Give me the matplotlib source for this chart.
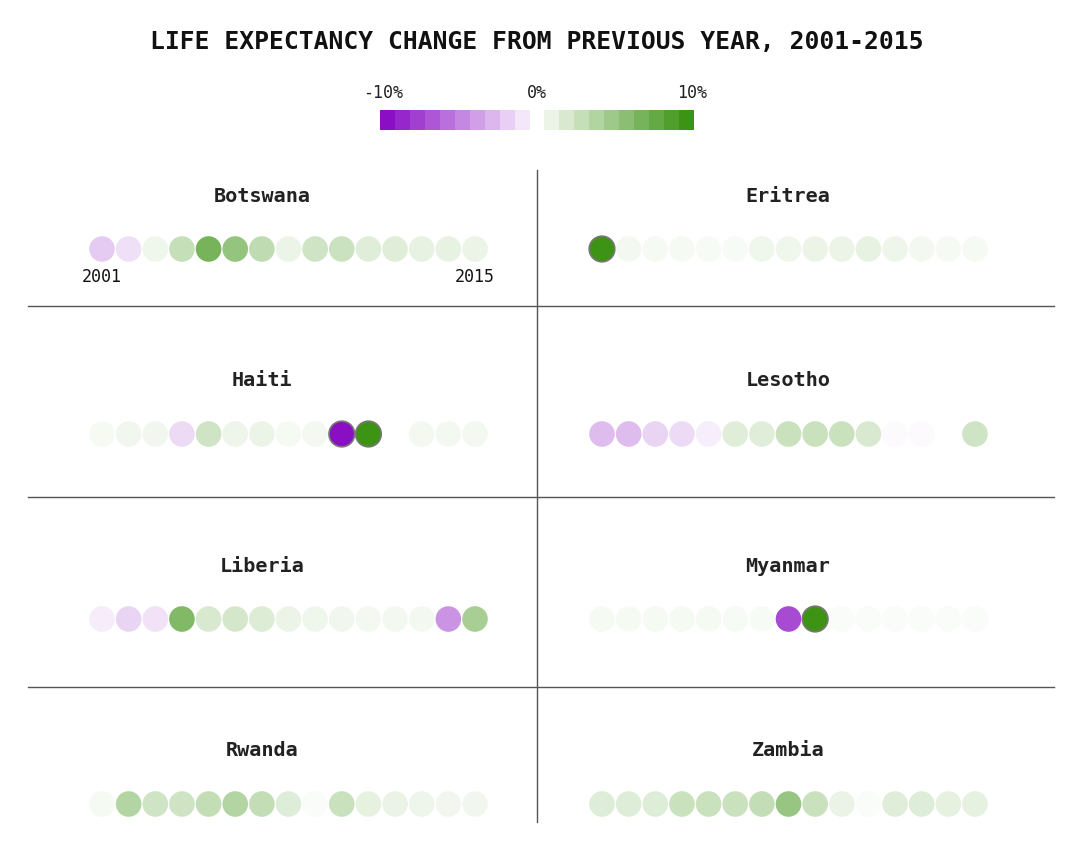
import numpy as np
import matplotlib.pyplot as plt
from matplotlib.colors import to_rgb

# data: % change in life expectancy from previous year
years = list(range(2001, 2016))
countries = ["Botswana", "Eritrea", "Haiti", "Lesotho",
             "Liberia", "Myanmar", "Rwanda", "Zambia"]

botswana = [-2.2, -1.3, 0.8, 3.0, 7.0, 5.5, 3.3, 1.0, 2.5, 2.7, 1.6, 1.6, 1.2, 1.2, 1.0]
eritrea = [12.0, 0.6, 0.5, 0.5, 0.4, 0.4, 0.8, 0.8, 1.0, 1.0, 1.2, 0.9, 0.6, 0.5, 0.5]
haiti = [0.5, 0.7, 0.7, -1.5, 2.5, 0.9, 1.0, 0.5, 0.6, -25.0, 30.0, 0.0, 0.6, 0.6, 0.6]
lesotho = [-2.8, -2.8, -1.8, -1.5, -0.7, 1.6, 1.6, 2.8, 2.8, 2.8, 2.0, -0.2, -0.2, 0.0, 2.5]
liberia = [-0.8, -1.8, -1.2, 6.5, 2.0, 2.2, 1.8, 1.0, 0.8, 0.7, 0.6, 0.6, 0.6, -4.5, 4.5]
myanmar = [0.5, 0.5, 0.5, 0.5, 0.5, 0.4, 0.4, -7.5, 12.0, 0.3, 0.3, 0.3, 0.3, 0.3, 0.3]
rwanda = [0.5, 3.9, 2.5, 2.5, 3.1, 3.9, 3.1, 1.7, 0.3, 2.8, 1.3, 1.1, 0.9, 0.7, 0.7]
zambia = [1.7, 1.7, 1.7, 2.8, 2.8, 2.8, 3.1, 5.3, 2.8, 1.1, 0.3, 1.6, 1.7, 1.3, 1.3]
series = [botswana, eritrea, haiti, lesotho, liberia, myanmar, rwanda, zambia]

legend_steps = [-10, -9, -8, -7, -6, -5, -4, -3, -2, -1,
                1, 2, 3, 4, 5, 6, 7, 8, 9, 10]

PURPLE = np.array(to_rgb("#8a0fc4"))
GREEN = np.array(to_rgb("#3d9314"))
WHITE = np.ones(3)


def color_of(v):
    t = min(abs(v) / 10.0, 1.0)
    end = PURPLE if v < 0 else GREEN
    return tuple(WHITE + (end - WHITE) * t)


plt.rcParams['font.family'] = ['DejaVu Sans Mono']

fig = plt.figure(figsize=(10.8, 8.58), dpi=100)
ax = fig.add_axes([0, 0, 1, 1])
ax.set_xlim(0, 1080)
ax.set_ylim(858, 0)
ax.axis('off')

ax.text(537, 42, "LIFE EXPECTANCY CHANGE FROM PREVIOUS YEAR, 2001-2015",
        ha='center', va='center', fontsize=17.7, fontweight='bold', color='#111111')

# legend swatches
sw_w, sw_h = 15, 20
for i, v in enumerate(legend_steps):
    x0 = 380 + i * sw_w + (14 if v > 0 else 0)
    ax.add_patch(plt.Rectangle((x0, 110), sw_w, sw_h, color=color_of(v), lw=0))
ax.text(383, 93, "-10%", ha='center', va='center', fontsize=12, color='#222222')
ax.text(537, 93, "0%", ha='center', va='center', fontsize=12, color='#222222')
ax.text(692, 93, "10%", ha='center', va='center', fontsize=12, color='#222222')

# grid lines
ax.plot([537, 537], [170, 822], color='#555555', lw=1)
for yl in [306, 497, 687]:
    ax.plot([28, 1054], [yl, yl], color='#555555', lw=1)

row_y = [196, 381, 566, 751]
col_x0 = [102, 602]
title_x = [262, 788]
step = (475 - 102) / 14

for k, (name, vals) in enumerate(zip(countries, series)):
    r, c = divmod(k, 2)
    xs = col_x0[c] + step * np.arange(len(years))
    ty = row_y[r]
    cy = ty + 53
    ax.text(title_x[c], ty, name, ha='center', va='center',
            fontsize=14.5, fontweight='bold', color='#222222')
    cols = [color_of(v) for v in vals]
    edges = ['#777777' if abs(v) > 10 else 'none' for v in vals]
    ax.scatter(xs, [cy] * len(xs), s=340, c=cols, edgecolors=edges, linewidths=1.2)
    if k == 0:
        ax.text(xs[0], cy + 28, str(years[0]), ha='center', va='center', fontsize=12, color='#111111')
        ax.text(xs[-1], cy + 28, str(years[-1]), ha='center', va='center', fontsize=12, color='#111111')

fig.savefig("out.png", dpi=100)
